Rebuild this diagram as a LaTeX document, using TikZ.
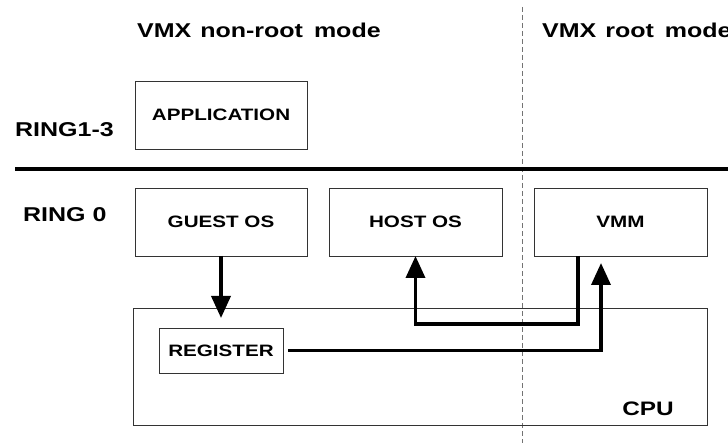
\documentclass[tikz,border=0pt]{standalone}
\usepackage{fontspec}
\setmainfont{Liberation Sans}[FakeStretch=1.25]
\usetikzlibrary{arrows.meta}

\tikzset{
  lbl/.style={font=\bfseries\fontsize{20bp}{24bp}\selectfont, inner sep=0pt, anchor=base west},
  blk/.style={draw=black!80, line width=0.8bp, inner sep=0pt, outer sep=0pt,
              font=\bfseries\fontsize{16.5bp}{20bp}\selectfont,
              minimum width=172bp, minimum height=68bp},
  flow/.style={line width=3.6bp, -{Triangle[length=22bp,width=19bp]}},
  sep/.style={line width=4bp},
  divider/.style={draw=black!55, line width=1bp, dash pattern=on 5bp off 3bp}
}

\begin{document}
\begin{tikzpicture}[x=1bp, y=-1bp]
  \useasboundingbox (0,0) rectangle (728,443);

  % mode divider and ring separator
  \coordinate (dtop) at (522,7);
  \coordinate (dbot) at (522,443);
  \draw[divider] (dtop) -- (dbot);
  \coordinate (sl) at (15,169.5);
  \coordinate (sr) at (728,169.5);
  \draw[sep] (sl) -- (sr);

  % headings and ring labels
  \node[lbl] (nonroot) at (137,38) {VMX\hspace{2bp} non-root\hspace{4bp} mode};
  \node[lbl] (root) at (542,38) {VMX\hspace{2bp} root\hspace{4bp} mode};
  \node[lbl] (ring13) at (15,137) {RING1-3};
  \node[lbl] (ring0) at (23,221.5) {RING 0};

  % blocks
  \node[blk] (app) at (221,115) {APPLICATION};
  \node[blk] (guest) at (221,222) {GUEST OS};
  \node[blk, minimum width=173bp] (host) at (415.5,222) {HOST OS};
  \node[blk, minimum width=173bp] (vmm) at (620.5,222) {VMM};
  \node[blk, minimum width=574bp, minimum height=117bp] (cpu) at (420,366.5) {};
  \node[font=\bfseries\fontsize{19.5bp}{23bp}\selectfont, inner sep=0pt] (cpulbl) at (648,409) {CPU};
  \node[blk, minimum width=124bp, minimum height=45bp] (reg) at (221,350.5) {REGISTER};

  % data paths
  \draw[flow, shorten >=10bp] (guest.south) -- (reg.north);
  \draw[flow] ([xshift=44bp]vmm.south west) |- ([yshift=-68bp]host.south) -- (host.south);
  \draw[flow, shorten <=5bp, shorten >=7bp] (reg.east) -| ([xshift=67bp]vmm.south west);
\end{tikzpicture}
\end{document}
